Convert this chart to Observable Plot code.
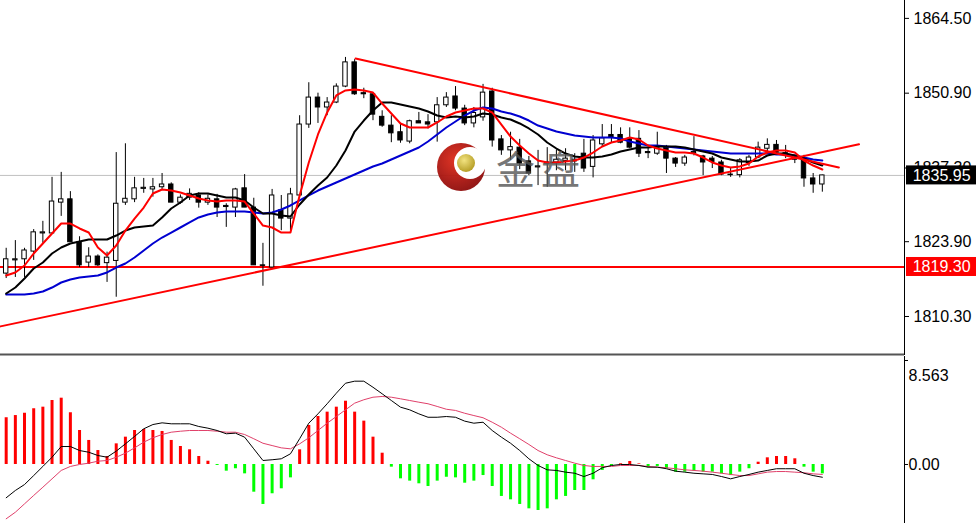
<!DOCTYPE html>
<html>
<head>
<meta charset="utf-8">
<script src="https://cdn.jsdelivr.net/npm/d3@7"></script>
<script src="https://cdn.jsdelivr.net/npm/@observablehq/plot@0.6"></script>
<style>
  html, body { margin: 0; padding: 0; background: #fff; }
  #chart { position: relative; width: 976px; height: 523px; overflow: hidden; }
  #chart svg { display: block; }
  #brand { position: absolute; left: 0; top: 0; pointer-events: none; }
</style>
</head>
<body>
<div id="chart"></div>
<script>
// Gold, hourly bars: open / high / low / close
const open  = [1818.1,1820.5,1820.7,1822.1,1825.4,1825.4,1831.0,1831.6,1823.8,1820.1,1821.2,1820.0,1820.4,1831.0,1831.6,1833.5,1833.4,1833.8,1834.3,1831.0,1831.9,1832.3,1831.0,1831.6,1830.4,1830.1,1833.6,1830.1,1819.6,1819.2,1829.6,1828.1,1832.3,1845.2,1850.1,1848.3,1849.2,1852.1,1856.5,1850.9,1850.7,1846.6,1845.0,1843.8,1842.1,1845.8,1845.6,1845.6,1848.7,1850.3,1848.1,1845.4,1846.5,1851.2,1842.5,1840.5,1841.0,1838.5,1837.4,1838.1,1838.3,1838.6,1838.5,1839.9,1837.5,1841.6,1843.3,1843.3,1842.6,1842.6,1840.2,1839.9,1841.0,1839.0,1838.1,1840.0,1839.4,1839.0,1838.3,1836.0,1836.0,1838.2,1839.2,1840.8,1841.5,1840.0,1839.2,1838.7,1835.4,1834.3];
const high  = [1822.7,1824.1,1822.7,1826.1,1827.6,1835.6,1836.5,1833.0,1824.8,1822.8,1821.5,1822.0,1840.1,1841.7,1835.6,1835.4,1835.4,1836.3,1834.6,1832.4,1833.5,1832.8,1832.4,1832.5,1830.8,1833.6,1836.1,1831.8,1823.6,1833.4,1832.3,1833.6,1846.8,1852.8,1850.9,1850.1,1852.6,1857.4,1857.0,1851.8,1850.9,1847.7,1846.8,1845.4,1846.0,1847.4,1847.0,1850.1,1851.0,1852.1,1848.7,1848.3,1852.5,1851.8,1843.2,1843.8,1842.5,1839.4,1840.5,1841.0,1840.5,1840.8,1839.9,1842.5,1843.2,1845.2,1845.2,1844.6,1844.6,1844.1,1841.0,1843.8,1841.4,1839.2,1839.6,1843.0,1839.6,1839.4,1838.7,1837.4,1839.0,1839.6,1842.0,1842.6,1842.3,1841.4,1839.6,1839.6,1836.3,1836.0];
const low   = [1817.2,1817.4,1817.4,1820.5,1823.6,1825.4,1828.5,1823.8,1819.2,1819.2,1819.4,1816.5,1813.8,1830.5,1831.0,1832.7,1832.0,1833.4,1831.0,1830.7,1831.4,1830.0,1830.5,1828.3,1826.5,1828.3,1830.1,1819.6,1815.8,1818.9,1825.9,1825.9,1831.9,1844.5,1845.4,1846.8,1849.0,1851.9,1850.5,1849.9,1845.9,1844.7,1841.9,1841.8,1841.7,1845.4,1844.4,1842.0,1848.3,1847.7,1845.0,1844.6,1845.8,1841.1,1839.6,1838.7,1837.0,1835.9,1834.1,1833.8,1836.8,1836.8,1836.5,1836.5,1835.5,1841.2,1841.9,1841.7,1840.8,1839.2,1839.0,1839.6,1836.3,1837.4,1837.6,1839.5,1835.9,1837.2,1835.9,1835.6,1835.5,1837.6,1839.0,1840.2,1839.6,1839.0,1838.1,1833.8,1832.7,1832.9];
const close = [1820.7,1820.7,1822.3,1825.6,1825.6,1831.2,1831.6,1823.8,1819.6,1821.2,1819.6,1821.0,1830.8,1831.7,1833.6,1833.7,1833.8,1834.3,1831.0,1831.9,1832.6,1831.0,1831.7,1830.1,1830.2,1833.4,1830.1,1819.6,1819.5,1832.3,1828.1,1832.5,1845.2,1850.1,1848.3,1849.2,1852.1,1856.5,1850.7,1850.7,1847.0,1845.0,1843.6,1842.3,1845.8,1845.4,1845.2,1848.7,1850.1,1848.1,1845.4,1847.3,1851.0,1842.3,1840.5,1841.1,1838.1,1836.3,1837.6,1838.3,1838.8,1839.0,1838.8,1837.2,1842.3,1842.7,1842.8,1841.9,1841.0,1839.9,1840.0,1841.0,1839.0,1838.1,1839.2,1840.2,1838.3,1838.4,1836.1,1836.1,1838.7,1839.2,1841.0,1841.5,1840.1,1839.9,1838.8,1835.4,1834.3,1835.95];

// Moving averages (fast red, medium black, slow blue)
const maFast = [1817.75,1818.30,1819.57,1821.75,1823.57,1825.39,1827.20,1827.20,1826.30,1825.57,1822.84,1821.39,1823.20,1825.93,1828.11,1830.11,1832.66,1833.39,1833.20,1832.84,1832.30,1831.75,1831.39,1831.20,1831.39,1831.39,1831.20,1829.02,1826.84,1826.48,1825.57,1825.57,1832.30,1838.30,1843.39,1847.39,1850.48,1851.39,1851.57,1851.39,1851.02,1849.02,1847.20,1845.39,1844.66,1844.66,1844.66,1845.57,1846.66,1847.39,1847.75,1848.11,1848.11,1847.39,1845.20,1843.02,1841.39,1839.93,1838.66,1838.30,1838.30,1838.48,1838.66,1839.20,1840.11,1841.20,1841.93,1842.30,1842.84,1842.48,1841.39,1840.84,1840.48,1840.11,1840.11,1839.93,1839.20,1838.30,1837.75,1837.39,1837.57,1838.11,1839.39,1840.11,1840.48,1840.48,1840.11,1838.66,1837.75,1837.02];
const maMid  = [1814.48,1815.57,1817.20,1819.02,1820.11,1821.75,1822.84,1823.57,1823.93,1824.30,1824.30,1824.30,1825.02,1825.93,1826.48,1826.66,1826.84,1828.30,1829.93,1831.02,1832.30,1832.66,1832.66,1832.30,1831.93,1831.93,1831.39,1830.11,1829.02,1829.02,1828.66,1828.48,1830.66,1832.48,1834.11,1835.57,1837.75,1840.48,1843.93,1845.93,1847.75,1849.20,1849.20,1848.84,1848.48,1848.11,1847.57,1846.84,1846.48,1846.66,1846.48,1846.66,1847.20,1847.02,1846.48,1846.11,1845.39,1844.48,1843.39,1841.93,1840.84,1839.93,1839.39,1839.20,1839.20,1839.39,1839.75,1840.30,1840.66,1841.02,1841.02,1841.20,1841.20,1841.20,1841.02,1840.66,1840.30,1839.93,1839.20,1838.84,1838.48,1838.48,1838.66,1839.57,1839.93,1839.93,1839.57,1839.02,1838.30,1837.75];
const maSlow = [1814.30,1814.30,1814.30,1814.48,1814.84,1815.57,1816.48,1817.02,1817.39,1817.57,1817.75,1818.30,1819.20,1819.93,1821.02,1822.30,1823.57,1824.66,1825.57,1826.48,1827.39,1828.30,1828.84,1829.20,1829.39,1829.39,1829.39,1829.20,1829.02,1829.20,1829.75,1830.48,1831.39,1832.30,1833.20,1833.93,1834.66,1835.39,1836.11,1836.84,1837.57,1838.11,1838.84,1839.57,1840.30,1841.02,1842.11,1843.39,1844.66,1845.75,1846.84,1847.75,1848.30,1848.11,1847.57,1847.20,1846.66,1845.93,1845.02,1844.48,1843.93,1843.57,1843.20,1843.02,1842.84,1842.84,1842.84,1842.66,1842.11,1841.75,1841.39,1841.39,1841.20,1841.02,1840.84,1840.66,1840.48,1840.30,1840.11,1839.93,1839.93,1839.93,1839.93,1839.93,1839.75,1839.75,1839.57,1839.20,1838.84,1838.66];

// MACD: histogram, DIF and DEA
const macdHist = [3.85,4.03,4.22,4.59,4.72,5.27,5.46,4.26,2.80,1.98,1.15,0.66,1.70,2.25,2.80,2.88,2.80,2.72,1.98,1.48,1.21,0.66,0.27,-0.08,-0.55,-0.35,-0.77,-2.28,-3.29,-2.41,-2.00,-1.10,1.21,3.21,3.95,4.31,4.72,5.21,4.31,3.57,2.25,0.93,-0.22,-1.18,-1.37,-1.59,-1.81,-1.37,-1.05,-1.10,-1.54,-1.37,-0.91,-1.81,-2.63,-2.91,-3.29,-3.65,-3.79,-3.65,-2.91,-2.63,-2.14,-2.14,-1.26,-0.49,-0.12,0.06,0.25,0.05,-0.27,-0.16,-0.35,-0.63,-0.63,-0.55,-0.63,-0.63,-0.77,-0.91,-0.63,-0.35,0.19,0.55,0.66,0.66,0.47,-0.22,-0.63,-0.77];
const macdDif  = [-2.74,-2.14,-1.65,-0.91,-0.16,0.60,1.48,1.48,1.15,1.01,0.74,0.60,1.10,1.70,2.31,2.94,3.29,3.43,3.35,3.35,3.35,3.13,2.99,2.80,2.53,2.58,2.25,1.29,0.33,0.39,0.47,0.88,2.12,3.40,4.17,5.00,5.87,6.69,6.86,6.86,6.36,5.82,5.27,4.72,4.50,4.17,3.89,3.89,3.95,3.89,3.57,3.40,3.48,2.80,2.25,1.75,1.15,0.47,-0.08,-0.44,-0.49,-0.63,-0.72,-0.99,-0.72,-0.27,-0.08,0.00,0.00,-0.08,-0.22,-0.22,-0.35,-0.55,-0.63,-0.72,-0.77,-0.82,-0.99,-1.18,-0.99,-0.82,-0.63,-0.49,-0.35,-0.35,-0.35,-0.72,-0.91,-1.05];
const macdDea  = [-4.47,-3.93,-3.24,-2.55,-1.87,-1.18,-0.49,-0.16,0.00,0.11,0.27,0.33,0.60,0.93,1.37,1.84,2.20,2.47,2.66,2.74,2.80,2.80,2.80,2.74,2.66,2.66,2.47,2.12,1.75,1.56,1.37,1.29,1.70,2.20,2.80,3.40,3.95,4.50,5.05,5.33,5.54,5.60,5.54,5.41,5.27,5.13,5.00,4.78,4.55,4.45,4.22,4.03,3.85,3.48,3.07,2.58,2.12,1.65,1.15,0.80,0.55,0.33,0.11,-0.08,-0.16,-0.16,-0.16,-0.08,-0.08,-0.08,-0.16,-0.22,-0.27,-0.35,-0.44,-0.49,-0.55,-0.63,-0.72,-0.82,-0.91,-0.91,-0.77,-0.63,-0.58,-0.58,-0.63,-0.68,-0.77,-0.82];

// Axis ticks
const priceTicks = [1864.50, 1850.90, 1837.30, 1823.90, 1810.30];
const macdTicks = [8.563, 0];

// Drawn objects: support level, last price, two trend lines (bar index, price)
const supportLevel = 1819.30;
const lastPrice = 1835.95;
const fallingBars = [38.1, 90.8];
const fallingPrices = [1857.2, 1837.4];
const risingBars = [-0.62, 93.0];
const risingPrices = [1808.5, 1841.6];

// ---- build tables
const bars = close.map((c, i) => ({i, o: open[i], h: high[i], l: low[i], c}));
const series = (arr) => arr.map((v, i) => ({i, v}));
const trend = (xs, ys) => xs.map((x, k) => ({i: x, v: ys[k]}));

const W = 976, AXIS = 72;
const xDomain = [-0.62, 97.96];
const font = "'Liberation Sans', Arial, sans-serif";

const main = Plot.plot({
  width: W, height: 356,
  marginLeft: 0, marginRight: AXIS, marginTop: 0, marginBottom: 2,
  style: {fontFamily: font, fontSize: "16px", color: "#000", background: "#fff", overflow: "visible"},
  x: {domain: xDomain, axis: null},
  y: {domain: [1803.39, 1867.75], axis: "right", ticks: priceTicks, tickFormat: d => d.toFixed(2),
      tickSize: 4, tickPadding: 5, line: true, label: null},
  marks: [
    Plot.ruleY([lastPrice], {stroke: "#c0c0c0", strokeWidth: 1}),
    Plot.ruleY([supportLevel], {stroke: "#ff0000", strokeWidth: 2}),
    Plot.ruleX(bars, {x: "i", y1: "l", y2: "h", stroke: "#000", strokeWidth: 1}),
    Plot.rect(bars, {x1: d => d.i - 0.24, x2: d => d.i + 0.24, y1: "o", y2: "c",
      fill: d => d.c >= d.o ? "#fff" : "#000", stroke: "#000", strokeWidth: 1}),
    Plot.line(series(maSlow), {x: "i", y: "v", stroke: "#0000d0", strokeWidth: 2}),
    Plot.line(series(maMid), {x: "i", y: "v", stroke: "#000", strokeWidth: 2}),
    Plot.line(series(maFast), {x: "i", y: "v", stroke: "#ff0000", strokeWidth: 2}),
    Plot.line(trend(fallingBars, fallingPrices), {x: "i", y: "v", stroke: "#ff0000", strokeWidth: 2}),
    Plot.line(trend(risingBars, risingPrices), {x: "i", y: "v", stroke: "#ff0000", strokeWidth: 2}),
    Plot.ruleY([1803.39], {stroke: "#555", strokeWidth: 2})
  ]
});

const macd = Plot.plot({
  width: W, height: 167,
  marginLeft: 0, marginRight: AXIS, marginTop: 0, marginBottom: 0,
  style: {fontFamily: font, fontSize: "16px", color: "#000", background: "#fff", overflow: "visible"},
  x: {domain: xDomain, axis: null},
  y: {domain: [-4.858, 8.892], axis: "right", ticks: macdTicks,
      tickFormat: d => d === 0 ? "0.00" : d.toFixed(3), tickSize: 3, tickPadding: 1, line: true, label: null},
  marks: [
    Plot.ruleX(series(macdHist), {x: "i", y1: 0, y2: "v",
      stroke: d => d.v >= 0 ? "#ff0000" : "#00ff00", strokeWidth: 3}),
    Plot.line(series(macdDea), {x: "i", y: "v", stroke: "#e0406a", strokeWidth: 1}),
    Plot.line(series(macdDif), {x: "i", y: "v", stroke: "#000", strokeWidth: 1})
  ]
});

const chart = document.getElementById("chart");
chart.appendChild(main);
chart.appendChild(macd);

// top label of the indicator window sits just under its edge
d3.select(macd).selectAll("text").filter(function () { return this.textContent === "8.563"; })
  .attr("dy", "0.95em");

// price tags on the axis
const yMain = main.scale("y");
function tag(value, bg) {
  const y = yMain.apply(value);
  const g = d3.select(main).append("g");
  g.append("rect").attr("x", W - AXIS + 2).attr("y", y - 9.5).attr("width", AXIS - 2).attr("height", 19).attr("fill", bg);
  g.append("text").attr("x", W - AXIS + 8.7).attr("y", y).attr("dy", "0.36em")
    .attr("text-anchor", "start").attr("fill", "#fff")
    .attr("font-family", font).attr("font-size", 16).text(value.toFixed(2));
}
tag(lastPrice, "#000");
tag(supportLevel, "#ff0000");

// broker mark
const brand = d3.select(chart).append("svg").attr("id", "brand").attr("width", W).attr("height", 356);
const defs = brand.append("defs");
const grad = defs.append("radialGradient").attr("id", "ball").attr("cx", "40%").attr("cy", "35%").attr("r", "70%");
grad.append("stop").attr("offset", "0%").attr("stop-color", "#e02a1a");
grad.append("stop").attr("offset", "100%").attr("stop-color", "#8a0a0a");
const gold = defs.append("radialGradient").attr("id", "gold").attr("cx", "40%").attr("cy", "35%").attr("r", "65%");
gold.append("stop").attr("offset", "0%").attr("stop-color", "#f2e27a");
gold.append("stop").attr("offset", "100%").attr("stop-color", "#b39a1c");
const logo = brand.append("g").attr("opacity", 0.95);
logo.append("circle").attr("cx", 461).attr("cy", 167).attr("r", 24).attr("fill", "url(#ball)");
logo.append("circle").attr("cx", 470).attr("cy", 163).attr("r", 16).attr("fill", "#fff");
logo.append("circle").attr("cx", 466).attr("cy", 163).attr("r", 9).attr("fill", "url(#gold)");
brand.append("text").attr("x", 496).attr("y", 184).attr("font-family", "'Noto Sans CJK SC', sans-serif")
  .attr("font-size", 39).attr("letter-spacing", 6).attr("fill", "#555").attr("opacity", 0.8).text("金盘");
</script>
</body>
</html>
